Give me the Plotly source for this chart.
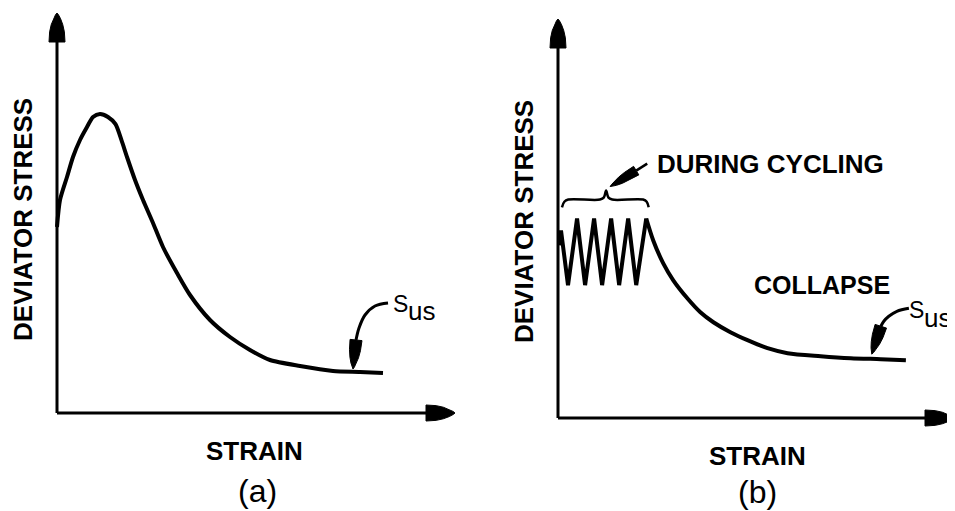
import plotly.graph_objects as go
import math

# ---------------- data (schematic, arbitrary units) ----------------
# Panel (a): monotonic loading - peak, then strain softening to steady state
strain_a = [0, 0.075, 0.251, 0.402, 0.578, 0.754, 0.905, 1.080, 1.281, 1.47, 1.62, 1.759, 1.960,
            2.161, 2.412, 2.663, 3.015, 3.342, 3.844, 4.347, 4.849, 5.352, 6.106, 6.935, 7.613, 8.191]
stress_a = [4.65, 5.325, 5.9, 6.4, 6.825, 7.15, 7.4, 7.475, 7.4, 7.22, 6.82, 6.4, 5.825,
            5.325, 4.75, 4.15, 3.5, 2.95, 2.325, 1.9, 1.575, 1.325, 1.175, 1.05, 1.025, 1.0]

# Panel (b): cyclic loading followed by collapse
strain_cyc = [0.025, 0.076, 0.253, 0.481, 0.684, 0.911, 1.114, 1.342, 1.544, 1.772, 1.975, 2.228]
stress_cyc = [4.33, 4.70, 3.33, 5.00, 3.33, 5.00, 3.33, 5.00, 3.33, 5.00, 3.33, 5.00]

strain_col = [2.228, 2.405, 2.658, 2.911, 3.266, 3.595, 3.924, 4.354, 4.785, 5.291, 5.797, 6.633, 7.392, 8.152, 8.785]
stress_col = [5.00, 4.45, 3.875, 3.45, 3.0, 2.65, 2.4, 2.15, 1.95, 1.75, 1.625, 1.55, 1.5, 1.475, 1.45]

# Annotation leaders (data units)
lead_a_x = [8.317, 7.99, 7.739, 7.588, 7.513]
lead_a_y = [2.75, 2.675, 2.45, 2.125, 1.825]
lead_a_tip = (7.437, 1.10)

lead_b_x = [8.861, 8.557, 8.354, 8.228, 8.152]
lead_b_y = [2.75, 2.675, 2.55, 2.425, 2.30]
lead_b_tip = (7.924, 1.60)

brace_x = [0.10, 0.16, 0.26, 1.06, 1.16, 1.215, 1.27, 1.37, 2.15, 2.24, 2.29]
brace_y = [5.28, 5.42, 5.475, 5.475, 5.53, 5.70, 5.53, 5.475, 5.475, 5.42, 5.28]

cyc_lead_x = [2.253, 1.975]
cyc_lead_y = [6.375, 6.20]
cyc_lead_tip = (1.316, 5.80)

AX_LEN = 10

# ---------------- geometry ----------------
OFF = 8                      # page body margin of the browser
WF, HF = 955 - OFF, 511 - OFF

# reference-pixel positions of axis origins and arrow tips
panels = {
    "a": dict(ox=57, oy=413, xt=455, yt=13, xa="x", ya="y"),
    "b": dict(ox=558, oy=418, xt=954, yt=19, xa="x2", ya="y2"),
}

def scale(p):
    P = panels[p]
    return (P["xt"] - P["ox"]) / AX_LEN, (P["oy"] - P["yt"]) / AX_LEN

def pads(p):
    P = panels[p]
    padL, padB = 16, 16
    padR = max(0, min(16, WF - (P["xt"] - OFF)))
    padT = max(0, min(16, P["yt"] - OFF))
    return padL, padR, padB, padT

def head(p, base, tip, half_px):
    """bullet-like arrow head / wedge from base centre to tip (data units)."""
    sx, sy = scale(p)
    bx, by = base[0] * sx, base[1] * sy
    tx, ty = tip[0] * sx, tip[1] * sy
    dx, dy = tx - bx, ty - by
    L = math.hypot(dx, dy)
    ux, uy = dx / L, dy / L
    nx, ny = -uy, ux
    prof = [(0, 1.0), (0.35, 0.92), (0.6, 0.72), (0.8, 0.45), (0.93, 0.2), (1.0, 0.0)]
    left = [(bx + ux * t * L + nx * w * half_px, by + uy * t * L + ny * w * half_px) for t, w in prof]
    right = [(bx + ux * t * L - nx * w * half_px, by + uy * t * L - ny * w * half_px) for t, w in prof[::-1]]
    pts = left + right[1:] + [left[0]]
    return [q[0] / sx for q in pts], [q[1] / sy for q in pts]

fig = go.Figure()

def add_line(p, x, y, width, shape="linear", smoothing=1.0):
    P = panels[p]
    fig.add_trace(go.Scatter(x=x, y=y, mode="lines", xaxis=P["xa"], yaxis=P["ya"],
                             line=dict(color="black", width=width, shape=shape, smoothing=smoothing),
                             hoverinfo="skip", showlegend=False))

def add_fill(p, xs, ys):
    P = panels[p]
    fig.add_trace(go.Scatter(x=xs, y=ys, mode="lines", fill="toself", fillcolor="black",
                             xaxis=P["xa"], yaxis=P["ya"], line=dict(color="black", width=1),
                             hoverinfo="skip", showlegend=False))

# axes with arrow heads (length px, half width px)
HEAD_LEN, HEAD_HALF = 29, 8
for p in ("a", "b"):
    sx, sy = scale(p)
    add_line(p, [0, AX_LEN - HEAD_LEN / sx * 0.5], [0, 0], 3)
    add_line(p, [0, 0], [0, AX_LEN - HEAD_LEN / sy * 0.5], 3)
    xs, ys = head(p, (AX_LEN - HEAD_LEN / sx, 0), (AX_LEN, 0), HEAD_HALF)
    add_fill(p, xs, ys)
    xs, ys = head(p, (0, AX_LEN - HEAD_LEN / sy), (0, AX_LEN), HEAD_HALF)
    add_fill(p, xs, ys)

# curves
add_line("a", strain_a, stress_a, 4, "spline", 0.7)
add_line("b", strain_cyc, stress_cyc, 4, "linear")
add_line("b", strain_col, stress_col, 4, "spline", 0.8)

# leaders
add_line("a", lead_a_x, lead_a_y, 3, "spline")
xs, ys = head("a", (lead_a_x[-1], lead_a_y[-1]), lead_a_tip, 6)
add_fill("a", xs, ys)

add_line("b", lead_b_x, lead_b_y, 3, "spline")
xs, ys = head("b", (lead_b_x[-1], lead_b_y[-1]), lead_b_tip, 6)
add_fill("b", xs, ys)

add_line("b", brace_x, brace_y, 2.5, "spline")
add_line("b", cyc_lead_x, cyc_lead_y, 2.5)
xs, ys = head("b", (cyc_lead_x[-1], cyc_lead_y[-1]), cyc_lead_tip, 5)
add_fill("b", xs, ys)

# ---------------- layout ----------------
def axes_cfg(p):
    P = panels[p]
    sx, sy = scale(p)
    padL, padR, padB, padT = pads(p)
    xdom = [(P["ox"] - OFF - padL) / WF, (P["xt"] - OFF + padR) / WF]
    ydom = [1 - (P["oy"] - OFF + padB) / HF, 1 - (P["yt"] - OFF - padT) / HF]
    xr = [-padL / sx, AX_LEN + padR / sx]
    yr = [-padB / sy, AX_LEN + padT / sy]
    base = dict(visible=False, fixedrange=True)
    return dict(domain=xdom, range=xr, **base), dict(domain=ydom, range=yr, **base)

xa_cfg, ya_cfg = axes_cfg("a")
xb_cfg, yb_cfg = axes_cfg("b")

FAM = "Liberation Sans, Arial, sans-serif"
LBL = dict(family=FAM, size=26, color="black", weight="bold")
LBL25 = dict(family=FAM, size=25, color="black", weight="bold")
SFONT = dict(family=FAM, size=23, color="black")
USFONT = dict(family=FAM, size=26, color="black")
PFONT = dict(family=FAM, size=32, color="black")

def ann(text, px, py, font, angle=0, xanchor="center", yanchor="middle"):
    return dict(text=text, x=(px - OFF) / WF, y=1 - (py - OFF) / HF, xref="paper", yref="paper",
                showarrow=False, font=font, textangle=angle, xanchor=xanchor, yanchor=yanchor)

annotations = [
    ann("DEVIATOR STRESS", 23, 220, LBL, -90),
    ann("DEVIATOR STRESS", 524, 222, LBL, -90),
    ann("STRAIN", 254, 451, LBL),
    ann("STRAIN", 757, 456, LBL),
    ann("(a)", 257, 491, PFONT),
    ann("(b)", 757, 492, PFONT),
    ann("DURING CYCLING", 770, 164, LBL),
    ann("COLLAPSE", 822, 285, LBL25),
    ann("S", 391, 304, SFONT, xanchor="left"),
    ann("us", 406, 311, USFONT, xanchor="left"),
    ann("S", 907, 310, SFONT, xanchor="left"),
    ann("us", 922, 318, USFONT, xanchor="left"),
]

fig.update_layout(
    width=WF, height=HF, margin=dict(l=0, r=0, t=0, b=0),
    paper_bgcolor="white", plot_bgcolor="white",
    xaxis=dict(anchor="y", **xa_cfg),
    yaxis=dict(anchor="x", **ya_cfg),
    xaxis2=dict(anchor="y2", **xb_cfg),
    yaxis2=dict(anchor="x2", **yb_cfg),
    annotations=annotations,
    showlegend=False,
)

fig.write_html("out.html", config={"displayModeBar": False})
